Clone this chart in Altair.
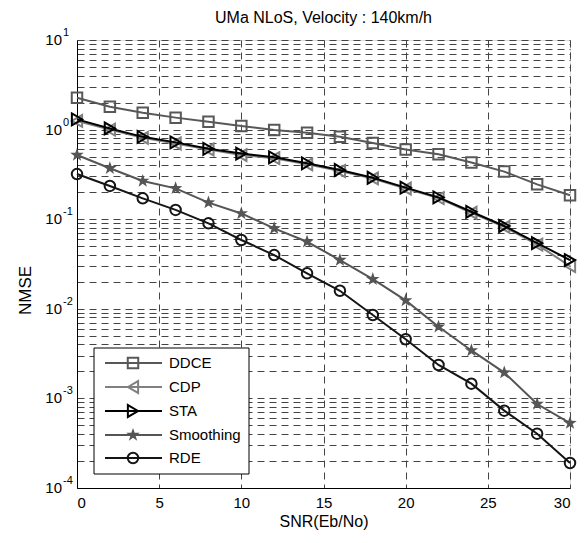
import altair as alt
import pandas as pd

# ---------------- data ----------------
snr = [0, 2, 4, 6, 8, 10, 12, 14, 16, 18, 20, 22, 24, 26, 28, 30]

ddce = [2.27, 1.80, 1.54, 1.36, 1.22, 1.10, 0.99, 0.92, 0.83, 0.71, 0.60, 0.53, 0.43, 0.34, 0.245, 0.185]
cdp = [1.25, 1.00, 0.81, 0.70, 0.60, 0.52, 0.48, 0.41, 0.345, 0.285, 0.22, 0.172, 0.118, 0.082, 0.052, 0.030]
sta = [1.30, 1.03, 0.83, 0.72, 0.61, 0.54, 0.49, 0.42, 0.354, 0.29, 0.225, 0.175, 0.121, 0.084, 0.054, 0.035]
smoothing = [0.52, 0.37, 0.267, 0.221, 0.153, 0.116, 0.079, 0.056, 0.035, 0.0214, 0.0124, 0.0063, 0.00343, 0.00194, 0.000865, 0.00053]
rde = [0.319, 0.235, 0.171, 0.127, 0.090, 0.0586, 0.0398, 0.0249, 0.0159, 0.00853, 0.00457, 0.00236, 0.00146, 0.00073, 0.000404, 0.00019]

series_names = ["DDCE", "CDP", "STA", "Smoothing", "RDE"]
series_values = [ddce, cdp, sta, smoothing, rde]

x_ticks = [0, 5, 10, 15, 20, 25, 30]
decade_exps = [1, 0, -1, -2, -3, -4]
minor_mults = [1, 2, 3, 4, 5, 6, 7, 8, 9]

title_text = "UMa NLoS, Velocity : 140km/h"
x_title = "SNR(Eb/No)"
y_title = "NMSE"

# ---------------- styles ----------------
FONT = "Liberation Sans"
STAR = ("M0,-1L0.235,-0.324L0.951,-0.309L0.380,0.124L0.588,0.809L0,0.4"
        "L-0.588,0.809L-0.380,0.124L-0.951,-0.309L-0.235,-0.324Z")
styles = {
    "DDCE": dict(color="#585858", shape="square", filled=False, size=110),
    "CDP": dict(color="#808080", shape="triangle-left", filled=False, size=140),
    "STA": dict(color="#000000", shape="triangle-right", filled=False, size=140),
    "Smoothing": dict(color="#555555", shape=STAR, filled=True, size=200),
    "RDE": dict(color="#151515", shape="circle", filled=False, size=110),
}

rows = []
for name, vals in zip(series_names, series_values):
    for x, v in zip(snr, vals):
        rows.append({"snr": x, "nmse": v, "series": name})
df = pd.DataFrame(rows)

y_tick_values = [m * 10.0 ** e for e in decade_exps[1:] for m in minor_mults] + [10.0 ** decade_exps[0]]

X = alt.X("snr:Q",
          scale=alt.Scale(domain=[0, 30], nice=False),
          axis=alt.Axis(values=x_ticks, grid=True, gridDash=[7, 5], gridColor="#444444",
                        gridWidth=1, ticks=False, labelFont=FONT, labelFontSize=15,
                        labelColor="black", labelPadding=7, domainColor="black",
                        title=x_title, titleFont=FONT, titleFontSize=16,
                        titleFontWeight="normal", titleColor="black", titlePadding=3))
Y = alt.Y("nmse:Q",
          scale=alt.Scale(type="log", domain=[1e-4, 10], nice=False),
          axis=alt.Axis(values=y_tick_values, grid=True, gridDash=[7, 5], gridColor="#444444",
                        gridWidth=1, ticks=False, labels=False, domainColor="black",
                        title=y_title, titleFont=FONT, titleFontSize=17,
                        titleFontWeight="normal", titleColor="black",
                        titleX=-52, titleY=250, titleAngle=-90, titleBaseline="middle",
                        titleAlign="center"))

layers = []
for name in series_names:
    st = styles[name]
    sub = alt.Chart(df).transform_filter(alt.datum.series == name)
    layers.append(sub.mark_line(color=st["color"], strokeWidth=2).encode(x=X, y=Y))
    fill = st["color"] if st["filled"] else "transparent"
    layers.append(sub.mark_point(color=st["color"], shape=st["shape"], filled=st["filled"],
                                 size=st["size"], strokeWidth=2, opacity=1, fill=fill
                                 ).encode(x=X, y=Y))

# y-axis decade labels 10^k
lab_df = pd.DataFrame({"nmse": [10.0 ** e for e in decade_exps],
                       "exp": [str(e) for e in decade_exps]})
base_lab = alt.Chart(lab_df)
layers.append(base_lab.mark_text(text="10", align="right", baseline="middle", font=FONT,
                                 fontSize=15, color="black").encode(x=alt.value(-15), y=Y))
layers.append(base_lab.mark_text(align="left", baseline="middle", font=FONT, fontSize=11,
                                 color="black", dy=-7).encode(x=alt.value(-14), y=Y,
                                                              text="exp:N"))

# chart title as a text mark
one = pd.DataFrame({"a": [0]})
layers.append(alt.Chart(one).mark_text(text=title_text, align="center", baseline="middle",
                                       font=FONT, fontSize=16, color="black").encode(
    x=alt.value(246.5), y=alt.value(-22)))

# legend (manual, line + marker)
leg_left, leg_right, leg_top, leg_bottom = 17, 172, 308, 434
layers.append(alt.Chart(one).mark_rect(fill="white", stroke="black", strokeWidth=1).encode(
    x=alt.value(leg_left), x2=alt.value(leg_right), y=alt.value(leg_top), y2=alt.value(leg_bottom)))
entry_y = [323, 347, 371, 395, 418]
for name, yy in zip(series_names, entry_y):
    st = styles[name]
    fill = st["color"] if st["filled"] else "transparent"
    layers.append(alt.Chart(one).mark_rule(color=st["color"], strokeWidth=2).encode(
        x=alt.value(28), x2=alt.value(85), y=alt.value(yy)))
    layers.append(alt.Chart(one).mark_point(color=st["color"], shape=st["shape"],
                                            filled=st["filled"], size=st["size"], fill=fill,
                                            strokeWidth=2, opacity=1).encode(
        x=alt.value(56), y=alt.value(yy)))
    layers.append(alt.Chart(one).mark_text(text=name, align="left", baseline="middle",
                                           font=FONT, fontSize=15, color="black").encode(
        x=alt.value(92), y=alt.value(yy)))

chart = alt.layer(*layers).properties(
    width=493, height=448,
    autosize=alt.AutoSizeParams(type="none"),
    padding={"left": 69, "top": 32, "right": 8, "bottom": 47},
).configure_view(stroke="black", strokeWidth=1).configure(background="white")

chart.save("out.html", embed_options={"renderer": "svg", "actions": False})
